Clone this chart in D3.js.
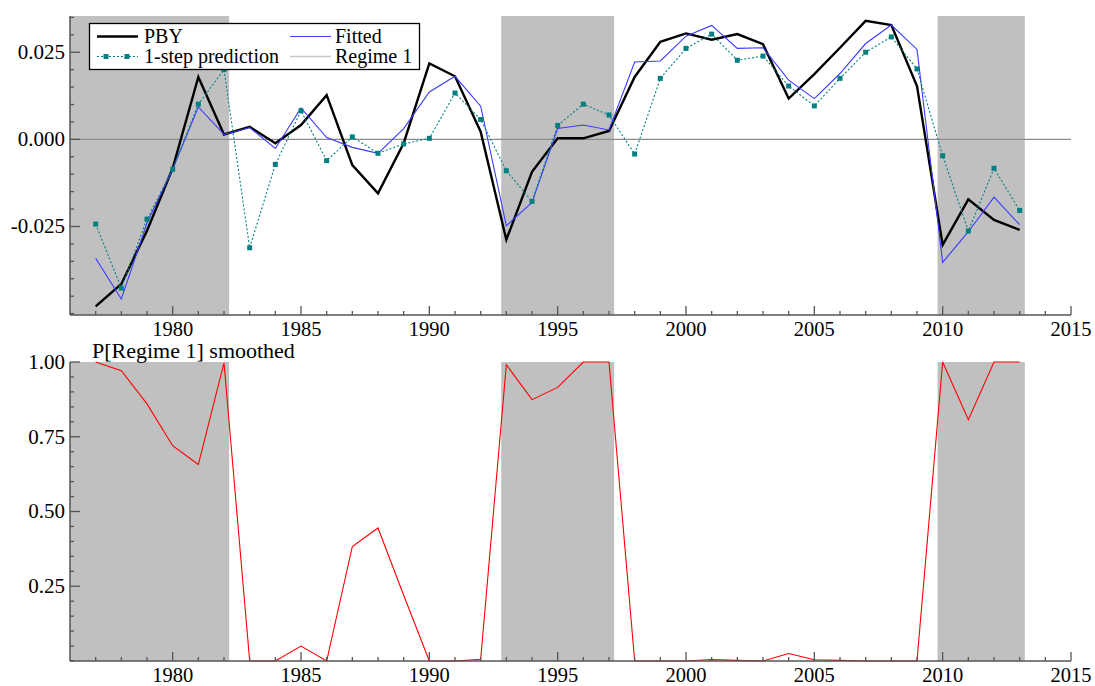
<!DOCTYPE html>
<html>
<head>
<meta charset="utf-8">
<script src="https://cdn.jsdelivr.net/npm/d3@7"></script>
<style>
  html, body { margin: 0; padding: 0; background: #fff; }
  svg { display: block; }
</style>
</head>
<body>
<svg id="chart" width="1095" height="686"></svg>
<script>
// ---------------- data ----------------
const years = [1977,1978,1979,1980,1981,1982,1983,1984,1985,1986,1987,1988,1989,1990,
  1991,1992,1993,1994,1995,1996,1997,1998,1999,2000,2001,2002,2003,2004,2005,2006,
  2007,2008,2009,2010,2011,2012,2013];

const pby = [-0.0479,-0.0415,-0.0262,-0.0083,0.0179,0.0014,0.0036,-0.0011,0.0041,0.0127,
  -0.0074,-0.0155,-0.0011,0.0218,0.0181,0.0022,-0.0288,-0.0093,0.0003,0.0003,
  0.0024,0.0179,0.0280,0.0304,0.0286,0.0302,0.0273,0.0117,0.0187,0.0263,
  0.0340,0.0328,0.0153,-0.0303,-0.0172,-0.0231,-0.0260];

const fitted = [-0.0341,-0.0458,-0.0240,-0.0086,0.0093,0.0014,0.0034,-0.0026,0.0090,0.0005,
  -0.0023,-0.0040,0.0031,0.0136,0.0181,0.0095,-0.0248,-0.0181,0.0031,0.0041,
  0.0027,0.0222,0.0225,0.0296,0.0327,0.0261,0.0263,0.0170,0.0117,0.0189,
  0.0275,0.0328,0.0258,-0.0353,-0.0265,-0.0166,-0.0245];

const prediction = [-0.0243,-0.0427,-0.0229,-0.0086,0.0101,0.0200,-0.0311,-0.0072,0.0082,-0.0061,
  0.0007,-0.0040,-0.0013,0.0003,0.0133,0.0057,-0.0090,-0.0178,0.0040,0.0101,
  0.0070,-0.0042,0.0175,0.0261,0.0302,0.0227,0.0239,0.0153,0.0096,0.0175,
  0.0250,0.0294,0.0202,-0.0047,-0.0263,-0.0083,-0.0204];

const probRegime1 = [1.0,0.971,0.860,0.720,0.657,0.997,0,0,0.050,0,
  0.383,0.445,0.22,0,0,0.006,0.991,0.874,0.915,1.0,
  1.0,0,0,0,0.005,0.002,0,0.025,0.004,0.002,
  0,0,0,1.0,0.807,1.0,1.0];

// regime-1 shaded periods (band edges in years)
const bandStart = [1976, 1992.8, 2009.8];
const bandEnd   = [1982.2, 1997.2, 2013.2];

const xMajorTicks = [1980,1985,1990,1995,2000,2005,2010,2015];
const topMajorTicks = [-0.025, 0, 0.025];
const topTickLabels = ["-0.025","0.000","0.025"];
const botMajorTicks = [0.25, 0.5, 0.75, 1.0];
const botTickLabels = ["0.25","0.50","0.75","1.00"];

const legendLabels = ["PBY","Fitted","1-step prediction","Regime 1"];

// ---------------- drawing ----------------
const FONT = "'Liberation Serif', 'Times New Roman', 'DejaVu Serif', serif";
const svg = d3.select("#chart");
const AX = "#555";
const x = d3.scaleLinear().domain([1976, 2015]).range([70, 1071]);

const panels = [
  { y: d3.scaleLinear().domain([-0.0504, 0.0354]).range([315, 16]),
    majors: topMajorTicks, labels: topTickLabels, minorStep: 0.005 },
  { y: d3.scaleLinear().domain([0, 1]).range([661, 362]),
    majors: botMajorTicks, labels: botTickLabels, minorStep: 0.05 }
];

function txt(sel, size) {
  return sel.style("font-family", FONT).style("font-size", size + "px").attr("fill", "#000");
}

function drawFrame(p) {
  const g = svg.append("g");
  const [y0, y1] = p.y.range();
  g.selectAll("rect.band").data(bandStart).enter().append("rect")
    .attr("x", (d) => x(d))
    .attr("width", (d, i) => x(bandEnd[i]) - x(d))
    .attr("y", y1).attr("height", y0 - y1)
    .attr("fill", "#c0c0c0");
  return g;
}

function drawAxes(p) {
  const g = svg.append("g");
  const [y0, y1] = p.y.range();
  const [d0, d1] = p.y.domain();
  g.append("line").attr("x1", x.range()[0]).attr("x2", x.range()[1])
    .attr("y1", y0).attr("y2", y0).attr("stroke", AX).attr("stroke-width", 1.5);
  g.append("line").attr("x1", x.range()[0]).attr("x2", x.range()[0])
    .attr("y1", y0).attr("y2", y1).attr("stroke", AX).attr("stroke-width", 1.5);
  const minorYears = d3.range(1977, 2015).filter(v => v % 5 !== 0);
  g.selectAll("line.xmin").data(minorYears).enter().append("line")
    .attr("x1", d => x(d)).attr("x2", d => x(d))
    .attr("y1", y0).attr("y2", y0 - 4).attr("stroke", AX).attr("stroke-width", 1.3);
  g.selectAll("line.xmaj").data(xMajorTicks).enter().append("line")
    .attr("x1", d => x(d)).attr("x2", d => x(d))
    .attr("y1", y0).attr("y2", y0 - 9).attr("stroke", AX).attr("stroke-width", 1.3);
  txt(g.selectAll("text.xl").data(xMajorTicks).enter().append("text")
    .attr("x", d => x(d)).attr("y", y0 + 21)
    .attr("text-anchor", "middle"), 20.5).text(d => d);
  const n0 = Math.ceil(d0 / p.minorStep - 1e-6), n1 = Math.floor(d1 / p.minorStep + 1e-6);
  const minors = d3.range(n0, n1 + 1).map(k => k * p.minorStep)
    .filter(v => !p.majors.some(m => Math.abs(m - v) < 1e-9));
  g.selectAll("line.ymin").data(minors).enter().append("line")
    .attr("x1", x.range()[0]).attr("x2", x.range()[0] + 4)
    .attr("y1", d => p.y(d)).attr("y2", d => p.y(d)).attr("stroke", AX).attr("stroke-width", 1.3);
  g.selectAll("line.ymaj").data(p.majors).enter().append("line")
    .attr("x1", x.range()[0]).attr("x2", x.range()[0] + 10)
    .attr("y1", d => p.y(d)).attr("y2", d => p.y(d)).attr("stroke", AX).attr("stroke-width", 1.3);
  txt(g.selectAll("text.yl").data(p.majors).enter().append("text")
    .attr("x", x.range()[0] - 5).attr("y", d => p.y(d))
    .attr("dy", "0.33em").attr("text-anchor", "end"), 21)
    .text((d, i) => p.labels[i]);
}

// ----- top panel -----
const topP = panels[0];
drawFrame(topP);
svg.append("line").attr("x1", x(1976)).attr("x2", x(2015))
  .attr("y1", topP.y(0)).attr("y2", topP.y(0))
  .attr("stroke", "#8c8c8c").attr("stroke-width", 1.3);

const lineTop = d3.line().x((d, i) => x(years[i])).y(d => topP.y(d));
svg.append("path").datum(pby).attr("d", lineTop)
  .attr("fill", "none").attr("stroke", "#000").attr("stroke-width", 2.4);
svg.append("path").datum(fitted).attr("d", lineTop)
  .attr("fill", "none").attr("stroke", "#3a3aff").attr("stroke-width", 1.1);
svg.append("path").datum(prediction).attr("d", lineTop)
  .attr("fill", "none").attr("stroke", "#008080").attr("stroke-width", 1.1)
  .attr("stroke-dasharray", "2,2");
svg.selectAll("rect.pt").data(prediction).enter().append("rect")
  .attr("x", (d, i) => x(years[i]) - 2.5).attr("y", d => topP.y(d) - 2.5)
  .attr("width", 5).attr("height", 5).attr("fill", "#008080");
drawAxes(topP);

// legend
const lg = svg.append("g");
lg.append("rect").attr("x", 89.5).attr("y", 23.5).attr("width", 330).attr("height", 46)
  .attr("fill", "#fff").attr("stroke", "#000").attr("stroke-width", 1.3);
const legRows = [
  { lx: 97, tx: 144, y: 36.5, label: legendLabels[0], stroke: "#000", w: 2.4 },
  { lx: 290, tx: 335, y: 36.5, label: legendLabels[1], stroke: "#3a3aff", w: 1.1 },
  { lx: 97, tx: 144, y: 56.5, label: legendLabels[2], stroke: "#008080", w: 1.1, dash: "2,2", marker: true },
  { lx: 290, tx: 335, y: 56.5, label: legendLabels[3], stroke: "#c8c8c8", w: 1.3 }
];
legRows.forEach(r => {
  lg.append("line").attr("x1", r.lx).attr("x2", r.lx + 41).attr("y1", r.y).attr("y2", r.y)
    .attr("stroke", r.stroke).attr("stroke-width", r.w)
    .attr("stroke-dasharray", r.dash || null);
  if (r.marker) {
    [106, 127].forEach(mx => lg.append("rect").attr("x", mx - 2.5).attr("y", r.y - 2.5)
      .attr("width", 5).attr("height", 5).attr("fill", "#008080"));
  }
  txt(lg.append("text").attr("x", r.tx).attr("y", r.y + 6), 20).text(r.label);
});

// ----- bottom panel -----
const botP = panels[1];
drawFrame(botP);
svg.append("path").datum(probRegime1)
  .attr("d", d3.line().x((d, i) => x(years[i])).y(d => botP.y(d)))
  .attr("fill", "none").attr("stroke", "#ff0000").attr("stroke-width", 1.1);
drawAxes(botP);
txt(svg.append("text").attr("x", 92).attr("y", 357.5), 22)
  .text("P[Regime 1] smoothed");
</script>
</body>
</html>
